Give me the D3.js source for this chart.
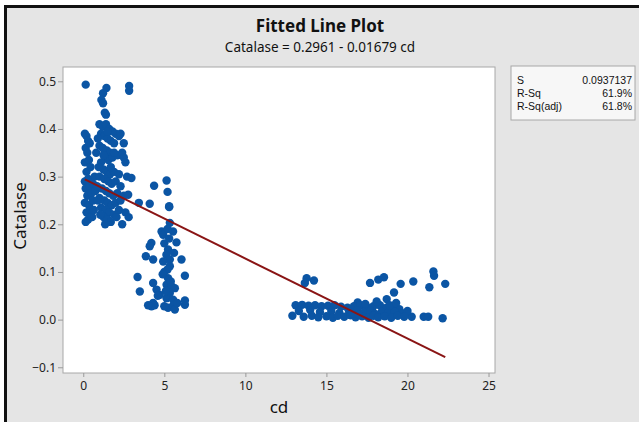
<!DOCTYPE html>
<html>
<head>
<meta charset="utf-8">
<script src="https://cdn.jsdelivr.net/npm/d3@7"></script>
<style>
  html, body { margin: 0; padding: 0; background: #ffffff; }
  svg { display: block; }
  text { font-family: "Noto Sans", "Open Sans", sans-serif; }
</style>
</head>
<body>
<div id="chart"></div>
<script>
// ---- data ----
const titleText = "Fitted Line Plot";
const equationText = "Catalase = 0.2961 - 0.01679 cd";
const xLabel = "cd";
const yLabel = "Catalase";
const xTicks = [0, 5, 10, 15, 20, 25];
const yTicks = [-0.1, 0.0, 0.1, 0.2, 0.3, 0.4, 0.5];
const intercept = 0.2961;
const slope = -0.01679;
const statNames = ["S", "R-Sq", "R-Sq(adj)"];
const statValues = ["0.0937137", "61.9%", "61.8%"];

// cluster 1 : low cd, high catalase
const cd1 = [0.15,0.1,0.2,0.3,0.15,0.4,0.25,0.1,0.35,0.2,0.45,0.1,0.3,0.15,0.4,0.6,0.25,0.5,0.1,0.35,0.2,0.45,0.3,0.15,0.55,0.6,0.7,0.75,0.8,0.65,
  1.43,1.22,1.12,1.22,1.33,1.4,1.0,1.2,1.4,1.6,1.8,2.0,2.2,1.1,1.3,1.5,1.7,1.9,1.0,1.2,1.45,1.65,1.35,1.55,1.1,1.8,2.1,2.4,2.5,1.25,1.45,1.65,1.9,2.2,1.0,1.3,1.55,1.75,2.0,2.3,1.15,1.4,1.6,1.85,2.1,1.0,1.3,1.5,1.75,2.0,2.3,1.1,1.4,1.6,1.9,2.2,1.25,1.5,1.7,1.35,2.5,2.6,2.8,2.4,2.7,2.6,2.5,2.3,2.83,2.83,2.97,2.77,3.43,4.1,
  0.9,0.95,0.85,1.05,1.5,1.7,1.25,2.05,1.9,0.9];
const cat1 = [0.493,0.39,0.385,0.375,0.36,0.37,0.35,0.33,0.335,0.31,0.32,0.29,0.295,0.275,0.28,0.285,0.26,0.265,0.245,0.24,0.225,0.23,0.21,0.205,0.215,0.25,0.3,0.27,0.35,0.23,
  0.486,0.475,0.461,0.454,0.434,0.43,0.41,0.405,0.41,0.4,0.395,0.39,0.385,0.39,0.385,0.38,0.375,0.37,0.365,0.36,0.355,0.35,0.34,0.335,0.33,0.34,0.345,0.35,0.34,0.315,0.31,0.305,0.31,0.305,0.3,0.295,0.29,0.285,0.29,0.28,0.275,0.27,0.265,0.26,0.265,0.255,0.25,0.245,0.24,0.245,0.25,0.235,0.23,0.225,0.22,0.23,0.215,0.21,0.205,0.2,0.26,0.225,0.215,0.2,0.3,0.33,0.37,0.39,0.49,0.48,0.297,0.262,0.245,0.243,
  0.38,0.32,0.28,0.22,0.395,0.32,0.345,0.215,0.35,0.25];

// cluster 2 : middle cd
const cd2 = [4.37,5.14,5.2,5.3,5.3,5.34,5.54,4.83,4.93,5.75,4.2,4.1,5.23,5.13,5.34,4.93,4.31,3.86,6.06,5.34,3.35,3.49,4.31,4.52,4.72,5.23,5.14,5.44,5.65,6.27,5.34,5.14,5.54,6.27,6.27,4.21,4.31,5.23,5.54,5.65,5.0,5.2,4.9,5.4,5.1,4.6,4.4,5.8,5.0,4.0,5.2,5.0,5.6,5.3];
const cat2 = [0.281,0.292,0.268,0.238,0.236,0.203,0.185,0.185,0.178,0.162,0.161,0.154,0.147,0.136,0.126,0.122,0.126,0.133,0.126,0.112,0.0895,0.059,0.077,0.063,0.052,0.087,0.073,0.07,0.066,0.092,0.056,0.045,0.042,0.031,0.04,0.028,0.035,0.025,0.029,0.021,0.1,0.105,0.095,0.08,0.06,0.05,0.03,0.035,0.028,0.03,0.19,0.16,0.14,0.17];

// cluster 3 : high cd, low catalase
const cd3 = [13.78,14.23,13.67,17.69,18.2,18.55,19.58,20.36,21.6,21.64,21.35,22.33,19.17,18.72,16.93,12.9,20.26,21.0,21.28,22.17,
  13.1,13.5,13.9,14.3,14.7,15.1,15.5,15.9,16.3,16.7,17.1,17.5,17.9,18.3,18.7,19.1,19.5,
  13.3,14.0,14.6,15.3,15.8,16.4,16.9,17.3,17.7,18.0,18.4,18.8,19.2,19.7,20.0,
  13.6,14.1,14.5,15.0,15.4,15.7,16.1,16.5,16.8,17.2,17.6,17.9,18.2,18.6,19.0,19.4,19.8,
  18.9,19.3,17.4,18.1,16.6,17.0];
const cat3 = [0.087,0.082,0.077,0.077,0.084,0.089,0.075,0.08,0.101,0.092,0.068,0.075,0.057,0.043,0.036,0.008,0.006,0.006,0.006,0.003,
  0.03,0.031,0.029,0.03,0.028,0.029,0.03,0.027,0.025,0.028,0.03,0.026,0.028,0.03,0.025,0.027,0.022,
  0.018,0.02,0.016,0.018,0.014,0.017,0.02,0.015,0.018,0.012,0.016,0.014,0.017,0.013,0.018,
  0.006,0.008,0.005,0.007,0.004,0.008,0.006,0.009,0.005,0.007,0.004,0.008,0.005,0.007,0.004,0.008,0.006,
  0.03,0.035,0.033,0.038,0.013,0.01];

const cdValues = cd1.concat(cd2, cd3);
const catalaseValues = cat1.concat(cat2, cat3);
const points = cdValues.map((c, i) => ({ cd: c, catalase: catalaseValues[i] }));

// ---- drawing ----
const W = 639, H = 422;
const svg = d3.select("#chart").append("svg").attr("width", W).attr("height", H);

// page background and frame
svg.append("rect").attr("x", 0).attr("y", 0).attr("width", W).attr("height", H).attr("fill", "#ffffff");
svg.append("rect").attr("x", 4).attr("y", 5).attr("width", W - 4).attr("height", H - 5).attr("fill", "#e5e5e5");
svg.append("rect").attr("x", 4).attr("y", 5).attr("width", W - 4).attr("height", 3).attr("fill", "#111");
svg.append("rect").attr("x", 4).attr("y", 5).attr("width", 3).attr("height", H - 5).attr("fill", "#111");

const plot = { left: 63, top: 67, right: 495, bottom: 373 };
const x = d3.scaleLinear().domain([-1.25, 25.4]).range([plot.left, plot.right]);
const y = d3.scaleLinear().domain([-0.112, 0.53]).range([plot.bottom, plot.top]);

// plot area
svg.append("rect")
  .attr("x", plot.left).attr("y", plot.top)
  .attr("width", plot.right - plot.left).attr("height", plot.bottom - plot.top)
  .attr("fill", "#ffffff").attr("stroke", "#a8a8a8").attr("stroke-width", 1);

// axes
const xAxis = svg.append("g").attr("transform", `translate(0,${plot.bottom})`)
  .call(d3.axisBottom(x).tickValues(xTicks).tickSize(4).tickPadding(4).tickFormat(d3.format("d")));
const yAxis = svg.append("g").attr("transform", `translate(${plot.left},0)`)
  .call(d3.axisLeft(y).tickValues(yTicks).tickSize(5).tickPadding(2).tickFormat(d3.format(".1f")));
[xAxis, yAxis].forEach(g => {
  g.select(".domain").remove();
  g.selectAll(".tick line").attr("stroke", "#9a9a9a");
  g.selectAll(".tick text").attr("fill", "#222").style("font-size", "12px")
    .style("font-family", '"Noto Sans", sans-serif');
});

// points
svg.append("g").selectAll("circle").data(points).join("circle")
  .attr("cx", d => x(d.cd)).attr("cy", d => y(d.catalase))
  .attr("r", 4.2).attr("fill", "#0b55a4");

// fitted line
const xMin = d3.min(cdValues), xMax = d3.max(cdValues);
svg.append("line")
  .attr("x1", x(xMin)).attr("y1", y(intercept + slope * xMin))
  .attr("x2", x(xMax)).attr("y2", y(intercept + slope * xMax))
  .attr("stroke", "#8a1515").attr("stroke-width", 2);

// titles
svg.append("text").attr("x", 320).attr("y", 32).attr("text-anchor", "middle")
  .style("font-size", "17px").style("font-weight", "bold").attr("fill", "#111").text(titleText);
svg.append("text").attr("x", 320).attr("y", 52).attr("text-anchor", "middle")
  .style("font-size", "13.5px").attr("fill", "#111").text(equationText);

// axis labels
svg.append("text").attr("x", (plot.left + plot.right) / 2).attr("y", 413).attr("text-anchor", "middle")
  .style("font-size", "17px").attr("fill", "#111").text(xLabel);
svg.append("text").attr("transform", `translate(26,${(plot.top + plot.bottom) / 2 - 4}) rotate(-90)`)
  .attr("text-anchor", "middle").style("font-size", "17px").attr("fill", "#111").text(yLabel);

// stats box
const box = { x: 511, y: 66, w: 124, h: 54 };
svg.append("rect").attr("x", box.x).attr("y", box.y).attr("width", box.w).attr("height", box.h)
  .attr("fill", "#f7f7f7").attr("stroke", "#a8a8a8");
statNames.forEach((n, i) => {
  svg.append("text").attr("x", box.x + 6).attr("y", box.y + 18 + i * 13)
    .style("font-family", '"Liberation Sans", Arial, sans-serif')
    .style("font-size", "10.5px").attr("fill", "#111").text(n);
  svg.append("text").attr("x", box.x + box.w - 3).attr("y", box.y + 18 + i * 13)
    .attr("text-anchor", "end")
    .style("font-family", '"Liberation Sans", Arial, sans-serif')
    .style("font-size", "10.5px").attr("fill", "#111").text(statValues[i]);
});
</script>
</body>
</html>
